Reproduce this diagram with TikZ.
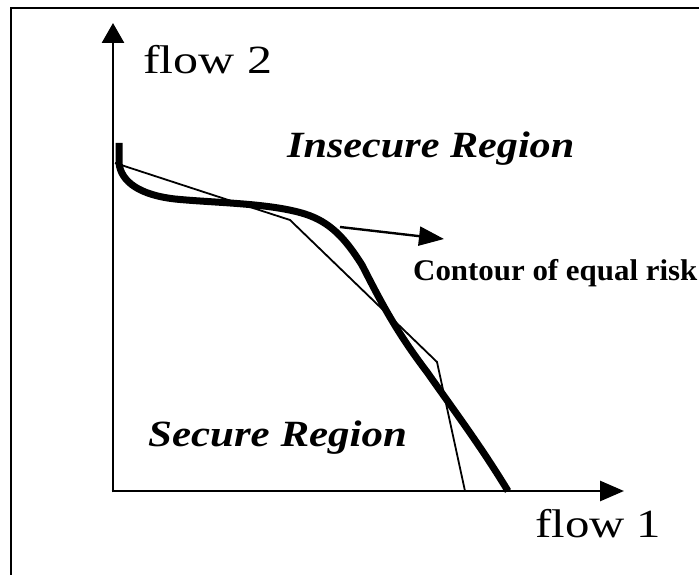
\documentclass[tikz,border=0pt]{standalone}
\usepackage{fontspec}
\setmainfont{Liberation Serif}
\usetikzlibrary{arrows.meta}
\begin{document}
\begin{tikzpicture}[x=1pt,y=-1pt,
  framestyle/.style={line width=2.6pt, line cap=butt},
  axisstyle/.style={line width=2.8pt},
  thickcurve/.style={line width=7pt, line join=round, line cap=butt},
  thinline/.style={line width=1.8pt, line join=miter},
  arrowline/.style={line width=2.4pt},
  axislabel/.style={inner sep=0pt, anchor=base west, font=\fontsize{40}{40}\selectfont},
  regionlabel/.style={inner sep=0pt, anchor=base west, font=\fontsize{37}{37}\selectfont\bfseries\itshape},
  contourlabel/.style={inner sep=0pt, anchor=base west, font=\fontsize{30}{30}\selectfont\bfseries}
]
\useasboundingbox (0,0) rectangle (699,575);
% frame
\coordinate (fbl) at (11,575);
\coordinate (ftl) at (11,8);
\coordinate (ftr) at (699,8);
\draw[framestyle] (fbl) -- (ftl) -- (ftr);
% axes
\coordinate (O) at (113,491);
\coordinate (ytip) at (113,23);
\coordinate (xtip) at (624,491);
\draw[axisstyle, -{Triangle[length=20pt,width=22pt]}] ([yshift=-1.4pt]O) -- (ytip);
\draw[axisstyle, -{Triangle[length=24pt,width=20pt]}] ([xshift=-1.4pt]O) -- (xtip);
% labels
\node[axislabel] (flow2) at (143,74) {\scalebox{1.25}[1]{flow 2}};
\node[axislabel] (flow1) at (535,537) {\scalebox{1.22}[1]{flow 1}};
\node[regionlabel] (insecure) at (287,158) {\scalebox{1.14}[1]{Insecure Region}};
\node[regionlabel] (secure) at (148,446) {\scalebox{1.16}[1]{Secure Region}};
\node[contourlabel] (contour) at (413,280) {\scalebox{1.03}[1]{Contour of equal risk}};
% thin piecewise linear approximation
\draw[thinline] (115,163) -- (213,195) -- (290,220) -- (437,362) -- (465,491);
% thick contour of equal risk
\draw[thickcurve] (119,143) -- (119,163)
  .. controls (121,182) and (140,195) .. (175,199)
  .. controls (215,203) and (270,203) .. (305,214)
  .. controls (330,222) and (345,238) .. (362,265)
  .. controls (380,300) and (395,330) .. (427,372)
  .. controls (455,412) and (480,445) .. (508,491);
% arrow to contour label
\coordinate (cstart) at (340,227);
\coordinate (ctip) at (444,239);
\draw[arrowline, -{Triangle[length=25pt,width=19pt]}] (cstart) -- (ctip);
\end{tikzpicture}
\end{document}
